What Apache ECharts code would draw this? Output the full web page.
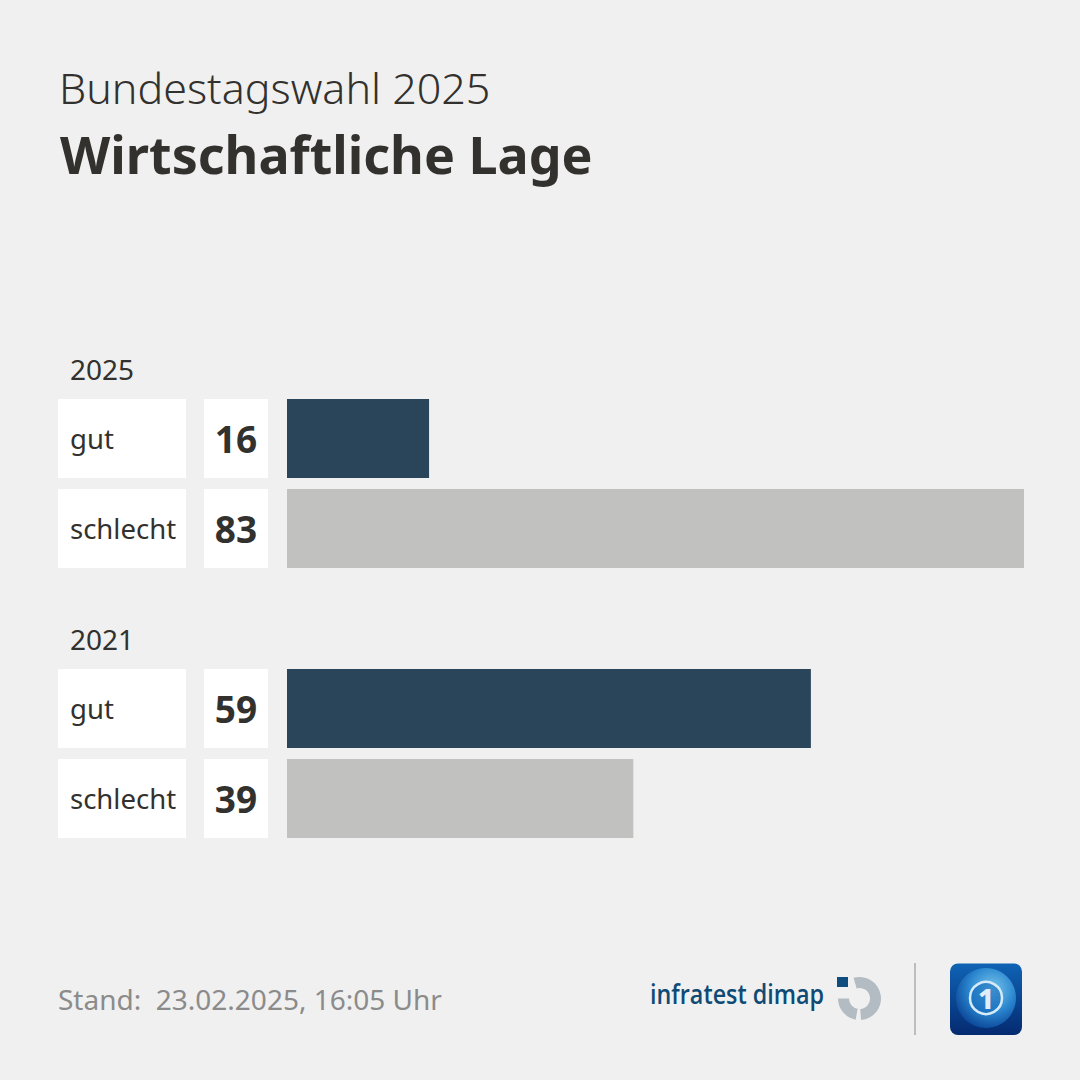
<!DOCTYPE html>
<html>
<head>
<meta charset="utf-8">
<style>
  html, body { margin: 0; padding: 0; background: #f0f0f0; }
  #chart { width: 1080px; height: 1080px; }
</style>
<script src="https://cdn.jsdelivr.net/npm/echarts@6/dist/echarts.min.js"></script>
</head>
<body>
<div id="chart"></div>
<script>
// Zeilen von oben nach unten, Jahreszeilen haben keinen Wert
const rowLabels = ['2025', 'gut', 'schlecht', '2021', 'gut', 'schlecht']
const rowValues = [null, 16, 83, null, 59, 39]
const barColors = { gut: '#2a4559', schlecht: '#c1c1bf' }

const textColor = '#32312e'
const fontName = '"Noto Sans", sans-serif'

function isYear(i) {
  return rowValues[i] === null
}

const myChart = echarts.init(document.getElementById('chart'), null, { renderer: 'svg' })

const option = {
  animation: false,
  backgroundColor: '#f0f0f0',
  textStyle: { fontFamily: fontName },
  title: [
    { text: 'Bundestagswahl 2025', left: 54, top: 61, textStyle: { fontSize: 43, fontWeight: 300, color: textColor, fontFamily: fontName } },
    { text: 'Wirtschaftliche Lage', left: 55, top: 122, textStyle: { fontSize: 52, fontWeight: 700, color: textColor, fontFamily: fontName } },
    { text: 'Stand:  23.02.2025, 16:05 Uhr', left: 53, top: 980, textStyle: { fontSize: 28, fontWeight: 400, color: '#8b8b8b', fontFamily: fontName } },
  ],
  grid: { left: 287, right: 56, top: 303.5, height: 540 },
  xAxis: { type: 'value', min: 0, max: 83, show: false },
  yAxis: [
    // Zahlenkästchen direkt vor den Balken
    {
      type: 'category',
      data: rowLabels,
      inverse: true,
      axisLine: { show: false },
      axisTick: { show: false },
      axisLabel: {
        margin: 19,
        interval: 0,
        formatter: function (name, i) {
          return isYear(i) ? '' : '{val|' + rowValues[i] + '}'
        },
        rich: {
          val: {
            width: 64, height: 79, lineHeight: 79, align: 'center',
            backgroundColor: '#fff', color: textColor, fontSize: 37, fontWeight: 700, fontFamily: fontName,
          },
        },
      },
    },
    // Beschriftung links, Jahre stehen ohne Kasten darüber
    {
      type: 'category',
      data: rowLabels,
      inverse: true,
      position: 'left',
      offset: 82,
      axisLine: { show: false },
      axisTick: { show: false },
      axisLabel: {
        margin: 19,
        interval: 0,
        formatter: function (name, i) {
          return isYear(i) ? '{year|' + name + '}' : '{box|' + name + '}'
        },
        rich: {
          box: {
            width: 116, height: 79, lineHeight: 79, padding: [0, 0, 0, 12], align: 'left',
            backgroundColor: '#fff', color: textColor, fontSize: 27.5, fontFamily: fontName,
          },
          year: {
            width: 116, height: 40, lineHeight: 40, padding: [40, 0, 0, 12], align: 'left',
            color: textColor, fontSize: 28, fontFamily: fontName,
          },
        },
      },
    },
  ],
  series: [
    {
      type: 'bar',
      yAxisIndex: 0,
      barWidth: 79,
      silent: true,
      data: rowValues.map(function (v, i) {
        return { value: v, itemStyle: { color: barColors[rowLabels[i]] } }
      }),
    },
  ],
  graphic: [
    // infratest dimap Logo
    { type: 'text', x: 650, y: 980, scaleX: 0.865, style: { text: 'infratest dimap', fontSize: 27, fontWeight: 600, fill: '#0f4a75', fontFamily: '"Open Sans", sans-serif' } },
    { type: 'sector', shape: { cx: 859.5, cy: 998.5, r: 21.5, r0: 10.5, startAngle: -1.85, endAngle: 1.5 }, style: { fill: '#b3bcc3' } },
    { type: 'sector', shape: { cx: 859.5, cy: 998.5, r: 21.5, r0: 10.5, startAngle: 1.75, endAngle: 3.14 }, style: { fill: '#b3bcc3' } },
    { type: 'rect', shape: { x: 837, y: 977, width: 11, height: 10 }, style: { fill: '#0f4d7f' } },
    // Trennlinie
    { type: 'rect', shape: { x: 914, y: 963, width: 2, height: 72 }, style: { fill: '#bdbdbd' } },
    // tagesschau Logo
    {
      type: 'rect',
      shape: { x: 950, y: 963.5, width: 72, height: 71.5, r: 8 },
      style: {
        fill: new echarts.graphic.LinearGradient(0, 0, 0, 1, [
          { offset: 0, color: '#0f63b5' },
          { offset: 1, color: '#052a70' },
        ]),
      },
    },
    {
      type: 'circle',
      shape: { cx: 986, cy: 998, r: 30 },
      style: {
        fill: new echarts.graphic.RadialGradient(0.6, 0.35, 0.7, [
          { offset: 0, color: '#79c6ec' },
          { offset: 0.55, color: '#2a86cf' },
          { offset: 1, color: '#0a4496' },
        ]),
      },
    },
    { type: 'circle', shape: { cx: 986, cy: 998, r: 16 }, style: { fill: 'rgba(20,105,185,0.6)', stroke: '#d5ebf7', lineWidth: 2.5 } },
    { type: 'text', x: 986, y: 998, style: { text: '1', fontSize: 28, fontWeight: 800, fill: '#dfeef8', align: 'center', verticalAlign: 'middle', fontFamily: fontName } },
  ],
}
myChart.setOption(option)
</script>
</body>
</html>
